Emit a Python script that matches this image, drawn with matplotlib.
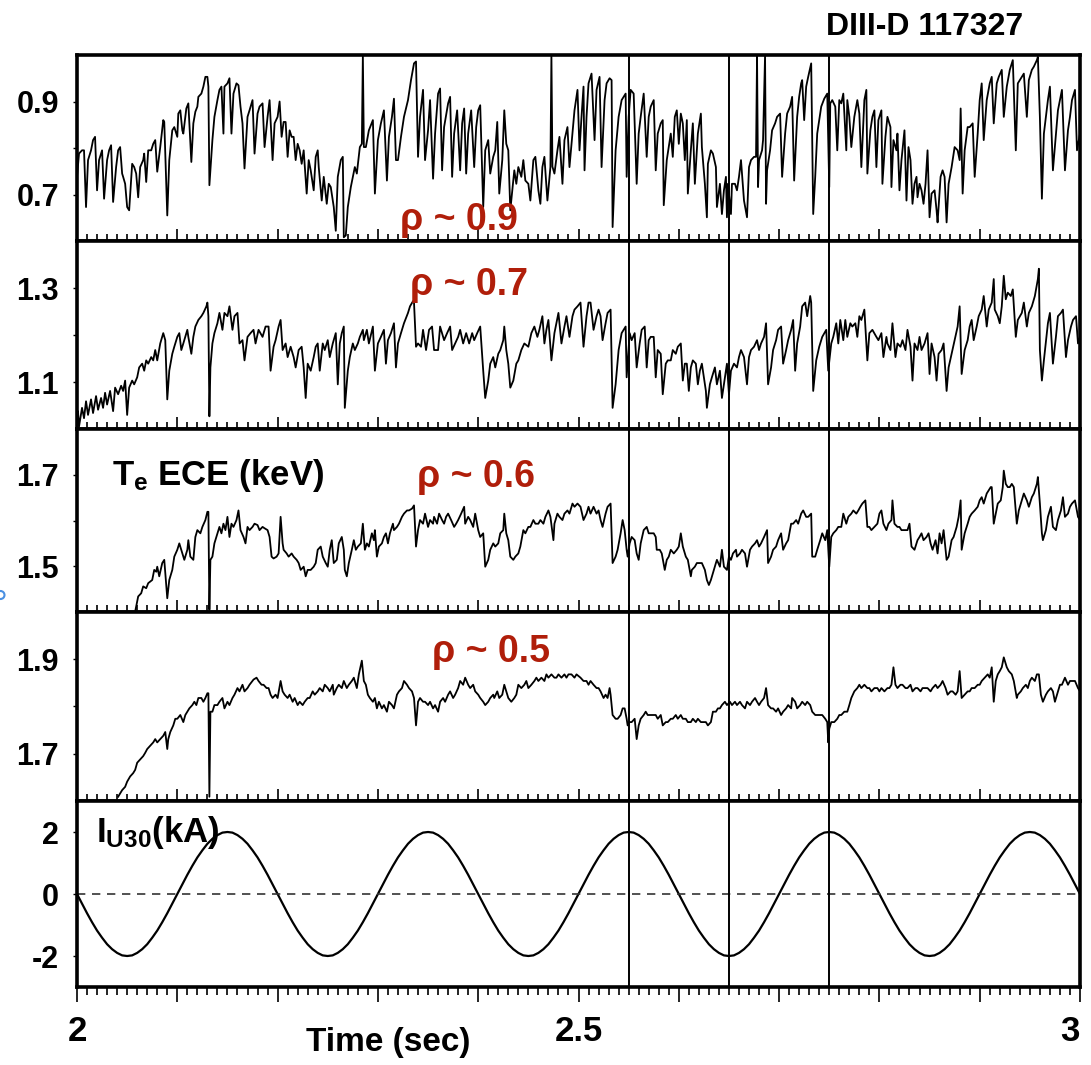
import numpy as np
import matplotlib
matplotlib.use('Agg')
import matplotlib.pyplot as plt
from matplotlib.ticker import MultipleLocator
from matplotlib.patches import Ellipse

plt.rcParams['font.family'] = ['Liberation Sans', 'DejaVu Sans']
plt.rcParams['font.weight'] = 'bold'
plt.rcParams['mathtext.default'] = 'regular'

# Te ECE traces: (ms after t = 2.0 s, keV)
te09 = [(0,.738),(2,.788),(5,.795),(7,.795),(9,.673),(11,.774),(14,.795),(16,.817),(18,.824),(20,.709),
(22,.774),(25,.795),(27,.691),(30,.774),(32,.795),(34,.806),(36,.684),(39,.759),(41,.795),(43,.802),
(45,.745),(46,.738),(48,.723),(50,.673),(52,.666),(55,.766),(57,.759),(59,.745),(61,.694),(63,.759),
(66,.774),(67,.788),(69,.727),(71,.795),(74,.795),(76,.809),(78,.817),(80,.749),(83,.802),(86,.860),
(87,.856),(90,.655),(92,.774),(95,.838),(97,.845),(100,.824),(101,.874),(103,.881),(105,.838),(106,.831),
(109,.885),(111,.896),(114,.770),(116,.853),(118,.878),(120,.889),(121,.910),(124,.917),(126,.932),(128,.953),
(130,.953),(131,.932),(132,.720),(135,.817),(137,.867),(140,.903),(142,.925),(144,.932),(146,.831),(147,.932),
(150,.939),(152,.950),(154,.831),(156,.917),(159,.939),(161,.935),(163,.889),(165,.853),(167,.756),(170,.867),
(172,.881),(175,.903),(177,.788),(180,.874),(182,.889),(185,.896),(187,.802),(190,.867),(192,.903),(195,.774),
(197,.853),(200,.867),(202,.900),(204,.824),(206,.856),(208,.856),(210,.781),(212,.838),(214,.824),(216,.824),
(218,.774),(220,.809),(222,.795),(224,.766),(226,.795),(229,.702),(231,.774),(233,.752),(236,.709),(238,.781),
(240,.795),(241,.759),(244,.687),(246,.738),(249,.680),(251,.723),(253,.716),(256,.673),(258,.622),(260,.738),
(263,.774),(265,.781),(266,.608),(268,.612),(270,.673),(273,.716),(275,.738),(277,.759),(279,.745),(282,.802),
(284,.809),(285,1.0),(286,.802),(288,.802),(291,.838),(295,.860),(297,.702),(300,.817),(303,.853),(306,.881),
(309,.730),(311,.824),(314,.867),(316,.906),(318,.774),(320,.774),(323,.824),(326,.867),(330,.903),(333,.946),
(336,.982),(338,.986),(340,.781),(342,.867),(345,.925),(347,.774),(350,.838),(352,.903),(355,.734),(357,.831),
(360,.917),(362,.928),(364,.752),(366,.845),(370,.896),(372,.910),(374,.738),(376,.831),(379,.881),(382,.752),
(384,.853),(386,.885),(388,.745),(390,.831),(393,.881),(396,.759),(398,.845),(400,.881),(402,.892),(405,.673),
(407,.795),(410,.817),(412,.745),(415,.781),(417,.795),(419,.856),(421,.702),(424,.774),(426,.881),(428,.809),
(430,.795),(432,.666),(434,.709),(436,.752),(438,.723),(440,.759),(443,.738),(445,.774),(447,.730),(450,.723),
(452,.687),(455,.774),(457,.781),(460,.709),(462,.680),(464,.759),(466,.781),(469,.687),(472,.759),(473,1.0),
(474,.760),(476,.745),(479,.795),(481,.824),(484,.723),(486,.817),(489,.845),(491,.759),(494,.831),(496,.881),
(499,.925),(501,.795),(503,.867),(505,.932),(506,.752),(508,.867),(510,.939),(513,.960),(516,.817),(518,.925),
(521,.953),(523,.759),(526,.903),(528,.939),(531,.950),(533,.946),(534,.630),(537,.795),(540,.867),(543,.903),
(547,.917),(548,.738),(550,.867),(552,.925),(555,.917),(558,.723),(560,.831),(562,.867),(565,.917),(568,.781),
(570,.867),(572,.889),(575,.903),(577,.752),(579,.831),(582,.853),(584,.860),(585,.677),(588,.774),(590,.802),
(592,.831),(594,.781),(596,.867),(598,.881),(600,.809),(602,.874),(604,.853),(606,.774),(608,.860),(609,.702),
(612,.795),(614,.853),(616,.723),(619,.831),(622,.874),(623,.802),(626,.723),(628,.651),(629,.766),(632,.795),
(634,.788),(637,.759),(638,.673),(641,.723),(643,.658),(645,.709),(647,.738),(648,.651),(649,.723),(652,.658),
(653,.723),(656,.723),(658,.709),(660,.738),(662,.774),(665,.687),(668,.651),(670,.759),(672,.774),(675,.781),
(677,.781),(678,1.0),(679,.716),(680,.774),(683,.795),(684,.817),(686,1.0),(687,.680),(688,.752),(691,.795),
(693,.838),(696,.853),(698,.867),(701,.874),(703,.738),(706,.831),(708,.874),(711,.889),(713,.910),(715,.730),
(718,.867),(720,.910),(722,.939),(723,.946),(725,.860),(727,.932),(729,.953),(732,.982),(734,.658),(736,.738),
(738,.831),(742,.889),(745,.906),(748,.917),(750,.716),(751,.896),(753,.903),(756,.889),(758,.795),(760,.903),
(762,.896),(764,.917),(767,.795),(768,.903),(770,.867),(772,.802),(775,.867),(778,.903),(780,.874),(782,.759),
(785,.903),(787,.925),(788,.745),(791,.838),(793,.867),(795,.881),(797,.759),(799,.860),(802,.881),(803,.723),
(806,.824),(808,.867),(811,.845),(812,.716),(814,.817),(817,.795),(818,.831),(820,.709),(822,.774),(825,.838),
(827,.687),(829,.802),(831,.774),(833,.680),(835,.723),(837,.738),(838,.694),(840,.723),(842,.709),(844,.680),
(846,.723),(848,.795),(850,.651),(852,.702),(855,.709),(857,.666),(858,.640),(861,.738),(863,.752),(865,.738),
(867,.640),(869,.723),(872,.759),(875,.802),(878,.795),(880,.774),(881,.885),(883,.702),(885,.795),(888,.845),
(890,.845),(893,.853),(895,.738),(898,.831),(900,.903),(902,.939),(904,.817),(907,.903),(910,.939),(912,.953),
(914,.853),(917,.939),(919,.953),(922,.968),(924,.867),(927,.932),(930,.968),(933,.989),(936,.795),(938,.939),
(942,.953),(944,.960),(947,.867),(949,.946),(952,.968),(954,.975),(957,.989),(958,.996),(960,.867),(962,.691),
(964,.831),(968,.903),(970,.932),(973,.752),(976,.831),(978,.881),(982,.925),(985,.752),(988,.838),(990,.867),
(992,.903),(995,.925),(997,.795),(1000,.831)]

te07 = [(0,1.016),(1,1.038),(2,1.005),(5,1.045),(7,1.023),(9,1.059),(11,1.030),(14,1.063),(16,1.034),(19,1.070),
(21,1.041),(24,1.066),(26,1.045),(28,1.077),(30,1.052),(33,1.081),(36,1.038),(38,1.088),(41,1.074),(44,1.092),
(46,1.081),(48,1.103),(50,1.030),(52,1.088),(55,1.103),(57,1.095),(60,1.110),(62,1.131),(65,1.139),(67,1.124),
(69,1.146),(71,1.139),(74,1.153),(76,1.146),(78,1.168),(80,1.146),(83,1.182),(86,1.204),(88,1.189),(90,1.063),
(92,1.124),(95,1.160),(97,1.175),(100,1.196),(102,1.204),(104,1.168),(106,1.182),(110,1.211),(111,1.196),(114,1.160),
(116,1.196),(118,1.218),(121,1.232),(124,1.240),(126,1.247),(129,1.261),(130,1.269),(131,1.240),(132,1.027),(133,1.131),
(135,1.182),(137,1.204),(140,1.225),(142,1.247),(145,1.211),(147,1.247),(150,1.240),(152,1.261),(155,1.211),(157,1.240),
(160,1.247),(162,1.182),(165,1.189),(167,1.146),(170,1.196),(173,1.204),(176,1.211),(178,1.182),(181,1.211),(185,1.196),
(188,1.218),(191,1.218),(193,1.124),(196,1.175),(198,1.189),(201,1.218),(203,1.232),(205,1.168),(208,1.182),(210,1.153),
(213,1.175),(216,1.153),(218,1.131),(221,1.168),(224,1.175),(226,1.131),(228,1.066),(230,1.139),(233,1.124),(236,1.153),
(238,1.175),(240,1.182),(242,1.124),(245,1.182),(247,1.168),(250,1.189),(252,1.153),(255,1.182),(258,1.204),(260,1.095),
(262,1.182),(264,1.204),(266,1.218),(267,1.045),(270,1.124),(272,1.153),(275,1.182),(277,1.168),(280,1.182),(282,1.196),
(285,1.211),(286,1.189),(289,1.211),(291,1.182),(295,1.218),(297,1.124),(300,1.182),(303,1.196),(306,1.211),(308,1.139),
(310,1.189),(313,1.204),(316,1.225),(318,1.131),(320,1.182),(323,1.204),(326,1.225),(330,1.247),(332,1.261),(335,1.272),
(336,1.269),(338,1.175),(340,1.182),(343,1.175),(345,1.211),(348,1.168),(351,1.211),(354,1.218),(356,1.168),(360,1.168),
(362,1.218),(366,1.189),(369,1.204),(372,1.218),(374,1.168),(377,1.182),(380,1.196),(382,1.211),(385,1.182),(388,1.204),
(391,1.182),(394,1.204),(396,1.189),(399,1.204),(402,1.218),(405,1.124),(407,1.066),(410,1.103),(412,1.139),(415,1.153),
(417,1.131),(420,1.160),(422,1.168),(425,1.189),(426,1.218),(428,1.168),(430,1.139),(432,1.088),(435,1.103),(438,1.139),
(440,1.146),(443,1.168),(446,1.182),(450,1.175),(453,1.204),(456,1.218),(459,1.196),(461,1.211),(464,1.240),(466,1.182),
(468,1.211),(470,1.232),(473,1.146),(476,1.204),(478,1.225),(480,1.247),(483,1.182),(486,1.218),(488,1.240),(491,1.196),
(494,1.240),(496,1.254),(499,1.261),(502,1.269),(505,1.175),(508,1.240),(510,1.269),(512,1.269),(515,1.211),(518,1.240),
(520,1.254),(522,1.240),(524,1.189),(527,1.225),(529,1.247),(532,1.254),(534,1.045),(537,1.095),(540,1.168),(543,1.204),
(547,1.218),(548,1.110),(551,1.204),(553,1.189),(556,1.204),(558,1.131),(561,1.182),(563,1.211),(566,1.218),(568,1.131),
(570,1.189),(572,1.196),(575,1.196),(577,1.110),(579,1.168),(582,1.160),(584,1.074),(587,1.139),(589,1.146),(592,1.146),
(594,1.168),(597,1.160),(599,1.175),(602,1.182),(604,1.103),(606,1.139),(608,1.139),(610,1.081),(612,1.131),(614,1.146),
(617,1.139),(619,1.095),(621,1.124),(623,1.139),(627,1.081),(628,1.045),(631,1.095),(633,1.110),(636,1.131),(638,1.095),
(641,1.124),(643,1.066),(646,1.110),(648,1.139),(650,1.074),(652,1.124),(655,1.139),(658,1.131),(660,1.153),(662,1.168),
(665,1.153),(668,1.095),(670,1.153),(672,1.168),(675,1.175),(678,1.189),(680,1.168),(682,1.182),(685,1.196),(687,1.225),
(689,1.095),(692,1.131),(694,1.168),(697,1.189),(699,1.211),(702,1.218),(704,1.139),(707,1.168),(709,1.189),(712,1.211),
(714,1.232),(716,1.124),(718,1.182),(721,1.218),(723,1.261),(726,1.269),(728,1.240),(731,1.283),(732,1.269),(734,1.081),
(737,1.146),(740,1.175),(743,1.196),(747,1.211),(749,1.124),(752,1.182),(754,1.196),(757,1.225),(759,1.182),(761,1.232),
(764,1.189),(766,1.232),(768,1.196),(771,1.225),(773,1.218),(776,1.225),(778,1.196),(780,1.240),(782,1.232),(785,1.254),
(788,1.146),(790,1.204),(793,1.211),(797,1.196),(799,1.189),(802,1.204),(804,1.153),(807,1.196),(808,1.182),(811,1.168),
(813,1.225),(816,1.153),(818,1.182),(821,1.175),(823,1.189),(826,1.168),(828,1.211),(831,1.175),(833,1.103),(835,1.182),
(838,1.168),(840,1.196),(842,1.168),(845,1.182),(848,1.204),(850,1.117),(852,1.182),(855,1.153),(857,1.103),(859,1.160),
(862,1.168),(864,1.182),(867,1.081),(869,1.131),(872,1.160),(875,1.189),(878,1.218),(880,1.261),(882,1.117),(885,1.168),
(888,1.189),(890,1.218),(892,1.232),(894,1.189),(897,1.218),(899,1.240),(902,1.254),(904,1.283),(907,1.218),(909,1.254),
(912,1.269),(914,1.319),(915,1.254),(918,1.240),(920,1.225),(922,1.261),(924,1.326),(926,1.276),(928,1.290),(931,1.283),
(933,1.297),(936,1.196),(938,1.232),(942,1.247),(944,1.269),(947,1.218),(949,1.247),(952,1.261),(955,1.283),(958,1.319),
(959,1.341),(960,1.168),(962,1.103),(964,1.146),(968,1.225),(970,1.247),(973,1.139),(976,1.196),(978,1.240),(981,1.247),
(983,1.254),(986,1.153),(988,1.189),(991,1.218),(993,1.232),(996,1.240),(998,1.182),(1000,1.196)]

te06 = [(58,1.401),(61,1.434),(64,1.441),(66,1.456),(69,1.452),(71,1.463),(75,1.470),(77,1.492),(79,1.488),(80,1.499),
(82,1.478),(85,1.507),(87,1.514),(90,1.430),(92,1.470),(95,1.492),(97,1.521),(100,1.536),(102,1.550),(105,1.528),
(107,1.514),(110,1.536),(111,1.557),(113,1.521),(116,1.514),(118,1.564),(120,1.579),(123,1.572),(125,1.586),(128,1.601),
(130,1.619),(131,1.619),(132,1.405),(133,1.514),(135,1.521),(137,1.550),(140,1.572),(142,1.586),(144,1.572),(146,1.593),
(148,1.579),(150,1.608),(152,1.564),(154,1.593),(156,1.586),(159,1.601),(161,1.622),(163,1.579),(166,1.564),(168,1.550),
(170,1.586),(172,1.579),(175,1.586),(177,1.593),(180,1.590),(182,1.579),(185,1.586),(187,1.583),(190,1.579),(192,1.564),
(194,1.521),(196,1.517),(199,1.521),(201,1.528),(203,1.608),(205,1.550),(206,1.536),(209,1.528),(211,1.521),(214,1.528),
(216,1.521),(219,1.514),(221,1.507),(223,1.492),(226,1.499),(228,1.478),(230,1.492),(233,1.492),(236,1.499),(238,1.507),
(240,1.536),(243,1.543),(245,1.521),(248,1.507),(250,1.499),(252,1.536),(254,1.557),(256,1.507),(259,1.514),(261,1.550),
(264,1.564),(266,1.536),(267,1.492),(269,1.478),(271,1.507),(274,1.536),(276,1.557),(278,1.536),(280,1.543),(283,1.550),
(285,1.593),(287,1.536),(289,1.550),(291,1.543),(294,1.572),(296,1.557),(297,1.579),(299,1.521),(301,1.543),(304,1.550),
(306,1.564),(308,1.572),(310,1.550),(312,1.572),(315,1.593),(316,1.579),(319,1.586),(321,1.593),(324,1.608),(326,1.615),
(329,1.622),(331,1.622),(334,1.626),(336,1.633),(338,1.543),(340,1.579),(342,1.601),(345,1.593),(347,1.615),(350,1.586),
(352,1.601),(355,1.593),(356,1.608),(359,1.593),(361,1.615),(364,1.601),(366,1.593),(368,1.608),(370,1.615),(373,1.601),
(376,1.586),(378,1.593),(380,1.601),(383,1.615),(386,1.630),(387,1.593),(390,1.608),(392,1.601),(395,1.586),(397,1.615),
(400,1.579),(402,1.564),(405,1.572),(407,1.499),(410,1.514),(412,1.536),(415,1.550),(417,1.543),(420,1.550),(422,1.572),
(425,1.579),(426,1.615),(428,1.572),(430,1.557),(432,1.521),(435,1.514),(437,1.521),(440,1.528),(442,1.543),(445,1.579),
(447,1.572),(450,1.586),(452,1.586),(455,1.601),(457,1.593),(460,1.593),(462,1.601),(465,1.593),(467,1.608),(470,1.622),
(472,1.608),(475,1.557),(476,1.593),(479,1.615),(481,1.608),(484,1.601),(486,1.615),(489,1.622),(491,1.615),(494,1.637),
(496,1.630),(499,1.637),(502,1.630),(505,1.601),(508,1.615),(510,1.630),(512,1.615),(515,1.630),(518,1.615),(520,1.622),
(522,1.601),(524,1.586),(527,1.615),(529,1.630),(532,1.637),(534,1.507),(537,1.521),(539,1.536),(542,1.572),(544,1.601),
(546,1.579),(548,1.536),(549,1.521),(551,1.550),(553,1.564),(556,1.557),(558,1.528),(560,1.514),(562,1.550),(565,1.579),
(568,1.586),(570,1.572),(572,1.572),(575,1.572),(577,1.564),(578,1.536),(581,1.536),(583,1.528),(586,1.492),(588,1.514),
(590,1.521),(592,1.536),(595,1.528),(598,1.536),(600,1.543),(602,1.572),(604,1.543),(607,1.521),(609,1.514),(612,1.478),
(613,1.492),(616,1.499),(618,1.507),(621,1.507),(623,1.507),(626,1.492),(628,1.470),(630,1.459),(632,1.470),(634,1.485),
(637,1.507),(638,1.514),(641,1.499),(643,1.536),(645,1.499),(648,1.492),(650,1.521),(652,1.514),(654,1.528),(657,1.536),
(658,1.521),(661,1.528),(663,1.536),(666,1.528),(668,1.499),(671,1.536),(673,1.543),(676,1.550),(678,1.557),(680,1.543),
(682,1.550),(685,1.564),(688,1.579),(689,1.507),(692,1.521),(694,1.536),(697,1.543),(699,1.557),(702,1.572),(704,1.536),
(707,1.550),(709,1.557),(712,1.593),(714,1.593),(717,1.601),(719,1.593),(722,1.615),(724,1.622),(727,1.608),(729,1.608),
(732,1.615),(733,1.521),(736,1.521),(738,1.536),(741,1.557),(743,1.572),(746,1.557),(748,1.579),(750,1.499),(752,1.564),
(754,1.572),(757,1.579),(759,1.586),(762,1.586),(764,1.615),(767,1.593),(769,1.608),(772,1.615),(774,1.622),(777,1.615),
(779,1.622),(781,1.630),(783,1.637),(786,1.644),(788,1.586),(790,1.586),(792,1.579),(795,1.586),(798,1.593),(800,1.615),
(802,1.622),(804,1.593),(807,1.579),(809,1.593),(812,1.601),(813,1.644),(815,1.593),(818,1.586),(820,1.586),(822,1.579),
(825,1.579),(828,1.579),(830,1.593),(832,1.543),(835,1.536),(838,1.557),(840,1.564),(842,1.572),(844,1.557),(847,1.564),
(849,1.572),(851,1.550),(853,1.536),(856,1.557),(858,1.528),(860,1.572),(862,1.550),(864,1.579),(867,1.514),(869,1.521),
(872,1.557),(874,1.564),(877,1.586),(879,1.608),(881,1.644),(882,1.536),(885,1.572),(888,1.593),(890,1.608),(892,1.615),
(895,1.622),(898,1.630),(900,1.644),(902,1.651),(904,1.637),(907,1.659),(909,1.666),(911,1.673),(912,1.673),(914,1.593),
(916,1.615),(918,1.637),(921,1.644),(923,1.673),(924,1.709),(926,1.680),(928,1.673),(930,1.673),(932,1.680),(934,1.673),
(937,1.593),(939,1.622),(942,1.644),(944,1.659),(947,1.644),(949,1.630),(952,1.651),(954,1.659),(957,1.680),(958,1.695),
(960,1.637),(962,1.572),(963,1.557),(966,1.579),(968,1.608),(971,1.630),(973,1.586),(976,1.579),(978,1.601),(981,1.622),
(983,1.651),(985,1.608),(988,1.615),(990,1.630),(992,1.637),(995,1.644),(998,1.608),(1000,1.601)]

te05 = [(41,1.609),(45,1.623),(48,1.630),(50,1.641),(53,1.652),(56,1.659),(58,1.666),(60,1.681),(63,1.688),(66,1.695),
(68,1.702),(70,1.710),(73,1.717),(76,1.724),(78,1.731),(80,1.724),(83,1.731),(86,1.738),(88,1.746),(90,1.710),
(91,1.731),(93,1.746),(96,1.760),(98,1.774),(100,1.774),(103,1.782),(106,1.767),(108,1.782),(110,1.789),(112,1.796),
(115,1.803),(117,1.810),(119,1.803),(121,1.818),(124,1.818),(126,1.810),(128,1.818),(130,1.828),(131,1.828),(132,1.609),
(133,1.789),(135,1.789),(137,1.803),(140,1.803),(142,1.810),(145,1.818),(147,1.796),(150,1.810),(152,1.803),(155,1.818),
(157,1.825),(160,1.839),(162,1.832),(165,1.846),(167,1.832),(170,1.839),(172,1.846),(175,1.854),(176,1.857),(179,1.861),
(181,1.854),(184,1.846),(186,1.846),(189,1.839),(191,1.839),(193,1.825),(195,1.818),(198,1.825),(200,1.818),(203,1.854),
(205,1.832),(207,1.825),(210,1.818),(212,1.825),(215,1.810),(217,1.818),(220,1.803),(222,1.810),(225,1.803),(227,1.810),
(230,1.818),(232,1.818),(235,1.832),(237,1.825),(240,1.832),(242,1.839),(245,1.832),(247,1.846),(250,1.839),(252,1.832),
(255,1.846),(256,1.825),(259,1.839),(261,1.846),(264,1.839),(266,1.854),(269,1.839),(271,1.846),(274,1.854),(276,1.861),
(279,1.839),(281,1.868),(284,1.897),(286,1.854),(288,1.846),(290,1.825),(292,1.818),(295,1.810),(297,1.818),(299,1.796),
(301,1.810),(304,1.796),(306,1.803),(309,1.789),(311,1.810),(314,1.803),(316,1.796),(319,1.825),(321,1.832),(324,1.839),
(326,1.854),(329,1.846),(331,1.839),(334,1.832),(336,1.818),(338,1.760),(340,1.810),(342,1.818),(345,1.810),(347,1.810),
(350,1.803),(352,1.810),(355,1.796),(357,1.803),(360,1.789),(362,1.810),(365,1.818),(367,1.810),(370,1.825),(372,1.832),
(375,1.818),(377,1.825),(380,1.839),(382,1.854),(385,1.846),(387,1.861),(390,1.846),(392,1.839),(395,1.846),(397,1.832),
(400,1.825),(402,1.818),(405,1.810),(407,1.803),(410,1.810),(412,1.818),(415,1.825),(416,1.818),(419,1.832),(421,1.818),
(424,1.825),(426,1.846),(428,1.832),(430,1.818),(433,1.810),(436,1.818),(438,1.825),(440,1.846),(443,1.839),(446,1.846),
(448,1.854),(450,1.839),(453,1.846),(456,1.854),(458,1.861),(460,1.854),(463,1.861),(466,1.854),(468,1.868),(470,1.861),
(473,1.868),(476,1.861),(478,1.861),(480,1.868),(483,1.861),(486,1.868),(488,1.861),(490,1.868),(493,1.868),(496,1.861),
(498,1.868),(502,1.861),(505,1.854),(508,1.854),(510,1.846),(512,1.854),(515,1.846),(518,1.839),(520,1.839),(522,1.832),
(525,1.818),(527,1.825),(529,1.818),(531,1.839),(532,1.825),(534,1.782),(537,1.774),(539,1.774),(542,1.782),(544,1.796),
(546,1.796),(548,1.774),(549,1.760),(551,1.767),(553,1.767),(556,1.774),(558,1.731),(560,1.760),(562,1.774),(565,1.782),
(567,1.789),(569,1.782),(572,1.782),(574,1.782),(577,1.782),(579,1.774),(582,1.782),(584,1.760),(587,1.767),(589,1.767),
(592,1.774),(594,1.774),(597,1.782),(599,1.774),(602,1.782),(604,1.774),(607,1.774),(609,1.767),(612,1.767),(614,1.774),
(617,1.767),(619,1.774),(622,1.767),(624,1.767),(627,1.767),(629,1.760),(632,1.767),(634,1.789),(637,1.789),(639,1.796),
(641,1.796),(643,1.803),(646,1.810),(648,1.803),(651,1.810),(653,1.803),(656,1.810),(658,1.803),(661,1.810),(663,1.803),
(666,1.796),(668,1.810),(671,1.803),(673,1.810),(676,1.818),(678,1.810),(680,1.803),(682,1.810),(685,1.818),(687,1.839),
(689,1.803),(692,1.796),(694,1.796),(697,1.789),(699,1.796),(702,1.782),(704,1.789),(707,1.796),(709,1.803),(712,1.796),
(713,1.818),(716,1.810),(718,1.796),(721,1.803),(723,1.810),(726,1.803),(728,1.810),(731,1.803),(733,1.789),(736,1.782),
(738,1.782),(741,1.782),(743,1.782),(746,1.774),(748,1.767),(749,1.724),(750,1.753),(752,1.767),(755,1.767),(758,1.774),
(760,1.782),(762,1.782),(765,1.789),(768,1.789),(770,1.803),(772,1.818),(775,1.832),(778,1.839),(780,1.846),(782,1.839),
(785,1.846),(788,1.839),(790,1.839),(792,1.832),(795,1.839),(798,1.839),(800,1.832),(802,1.839),(805,1.832),(808,1.839),
(810,1.839),(812,1.846),(814,1.883),(816,1.846),(818,1.839),(821,1.846),(823,1.846),(826,1.839),(828,1.839),(831,1.846),
(833,1.832),(836,1.839),(838,1.839),(841,1.832),(843,1.839),(846,1.839),(848,1.839),(851,1.832),(853,1.839),(856,1.846),
(858,1.839),(861,1.846),(863,1.854),(866,1.839),(868,1.825),(871,1.832),(873,1.832),(876,1.825),(878,1.832),(880,1.875),
(882,1.818),(885,1.825),(888,1.832),(890,1.832),(892,1.839),(895,1.839),(898,1.846),(900,1.846),(902,1.854),(905,1.861),
(908,1.868),(910,1.861),(912,1.883),(914,1.810),(916,1.854),(918,1.868),(920,1.875),(922,1.883),(924,1.904),(927,1.883),
(929,1.875),(932,1.868),(934,1.854),(937,1.818),(938,1.825),(941,1.832),(943,1.839),(946,1.846),(948,1.839),(950,1.854),
(952,1.861),(955,1.854),(957,1.868),(959,1.868),(961,1.825),(963,1.810),(966,1.825),(968,1.832),(971,1.839),(973,1.832),
(975,1.810),(978,1.832),(980,1.846),(982,1.846),(985,1.861),(988,1.846),(990,1.854),(992,1.854),(995,1.854),(998,1.839),
(1000,1.832)]

# coil current I_U30 (kA), sampled every 5 ms from 2.0 s
iu30 = [0, -0.31, -0.62, -0.91, -1.18, -1.41, -1.62, -1.78, -1.90, -1.98, -2.00, -1.98, -1.90, -1.78, -1.62, -1.41, -1.18, -0.91, -0.62, -0.31,
        0, 0.31, 0.62, 0.91, 1.18, 1.41, 1.62, 1.78, 1.90, 1.98, 2.00, 1.98, 1.90, 1.78, 1.62, 1.41, 1.18, 0.91, 0.62, 0.31,
        0, -0.31, -0.62, -0.91, -1.18, -1.41, -1.62, -1.78, -1.90, -1.98, -2.00, -1.98, -1.90, -1.78, -1.62, -1.41, -1.18, -0.91, -0.62, -0.31,
        0, 0.31, 0.62, 0.91, 1.18, 1.41, 1.62, 1.78, 1.90, 1.98, 2.00, 1.98, 1.90, 1.78, 1.62, 1.41, 1.18, 0.91, 0.62, 0.31,
        0, -0.31, -0.62, -0.91, -1.18, -1.41, -1.62, -1.78, -1.90, -1.98, -2.00, -1.98, -1.90, -1.78, -1.62, -1.41, -1.18, -0.91, -0.62, -0.31,
        0, 0.31, 0.62, 0.91, 1.18, 1.41, 1.62, 1.78, 1.90, 1.98, 2.00, 1.98, 1.90, 1.78, 1.62, 1.41, 1.18, 0.91, 0.62, 0.31,
        0, -0.31, -0.62, -0.91, -1.18, -1.41, -1.62, -1.78, -1.90, -1.98, -2.00, -1.98, -1.90, -1.78, -1.62, -1.41, -1.18, -0.91, -0.62, -0.31,
        0, 0.31, 0.62, 0.91, 1.18, 1.41, 1.62, 1.78, 1.90, 1.98, 2.00, 1.98, 1.90, 1.78, 1.62, 1.41, 1.18, 0.91, 0.62, 0.31,
        0, -0.31, -0.62, -0.91, -1.18, -1.41, -1.62, -1.78, -1.90, -1.98, -2.00, -1.98, -1.90, -1.78, -1.62, -1.41, -1.18, -0.91, -0.62, -0.31,
        0, 0.31, 0.62, 0.91, 1.18, 1.41, 1.62, 1.78, 1.90, 1.98, 2.00, 1.98, 1.90, 1.78, 1.62, 1.41, 1.18, 0.91, 0.62, 0.31,
        0]
iu30_t = np.linspace(2.0, 3.0, len(iu30))

mark_times = [2.55, 2.65, 2.75]

panels = [te09, te07, te06, te05]
ylims = [(0.6, 1.0), (1.0, 1.4), (1.4, 1.8), (1.6, 2.0), (-3, 3)]
yticks = [([0.7, 0.8, 0.9], ['0.7', '', '0.9']),
          ([1.1, 1.2, 1.3], ['1.1', '', '1.3']),
          ([1.5, 1.6, 1.7], ['1.5', '', '1.7']),
          ([1.7, 1.8, 1.9], ['1.7', '', '1.9']),
          ([-2, 0, 2], ['-2', '0', '2'])]
rho_labels = ['ρ ~ 0.9', 'ρ ~ 0.7', 'ρ ~ 0.6', 'ρ ~ 0.5']

W, H = 1091, 1065
fig = plt.figure(figsize=(W / 100, H / 100), dpi=100)
left, right = 77, 1080
edges = [55, 241, 429, 612, 801, 987]

def ftext(x, y, s, **kw):
    return fig.text(x / W, 1 - y / H, s, **kw)

axes = []
for i in range(5):
    top, bot = edges[i], edges[i + 1]
    ax = fig.add_axes([left / W, 1 - bot / H, (right - left) / W, (bot - top) / H])
    ax.set_xlim(2.0, 3.0)
    ax.set_ylim(*ylims[i])
    for s in ax.spines.values():
        s.set_linewidth(2.6)
    ax.xaxis.set_major_locator(MultipleLocator(0.1))
    ax.xaxis.set_minor_locator(MultipleLocator(0.01))
    ax.set_yticks(yticks[i][0], yticks[i][1])
    ax.tick_params(axis='y', which='major', direction='out', length=3, width=1,
                   labelsize=22, pad=10)
    if i < 4:
        ax.tick_params(axis='x', which='major', direction='in', length=9, width=1.2,
                       labelbottom=False)
        ax.tick_params(axis='x', which='minor', direction='in', length=5, width=1.2)
        pts = np.array(panels[i])
        ax.plot(2 + pts[:, 0] / 1000, pts[:, 1], color='black', lw=1.3)
    else:
        ax.tick_params(axis='x', which='major', direction='out', length=11, width=1.2,
                       labelsize=25, pad=9)
        ax.tick_params(axis='x', which='minor', direction='out', length=6, width=1.2)
        ax.set_xticks(np.round(np.arange(2.0, 3.001, 0.1), 1),
                      ['2', '', '', '', '', '2.5', '', '', '', '', '3'])
        ax.get_xticklabels()[-1].set_horizontalalignment('right')
        ax.plot(iu30_t, iu30, color='black', lw=1.6)
        ax.axhline(0, color='#333333', lw=1.2, ls=(0, (5, 4)))
    for tm in mark_times:
        ax.axvline(tm, color='black', lw=1.4)
    axes.append(ax)

# labels
ftext(925, 27, 'DIII-D 117327', fontsize=23, ha='center', va='center')
rho_pos = [(400, 230), (410, 295), (417, 487), (432, 662)]
for (x, y), lab in zip(rho_pos, rho_labels):
    ftext(x, y, lab, fontsize=27, color='#B01E0A', ha='left', va='baseline')
ftext(112, 485, 'T$_e$ ECE (keV)', fontsize=25, ha='left', va='baseline')
ftext(96, 842, 'I$_{U30}$(kA)', fontsize=25, ha='left', va='baseline')
ftext(388, 1042, 'Time (sec)', fontsize=24, ha='center', va='center')

# small blue mark cut by the left edge
fig.add_artist(Ellipse((0.5 / W, 1 - 595 / H), 8 / W, 8 / H, transform=fig.transFigure,
                       facecolor='none', edgecolor='#4a90e2', lw=1.5))

fig.savefig('out.png', dpi=100)
